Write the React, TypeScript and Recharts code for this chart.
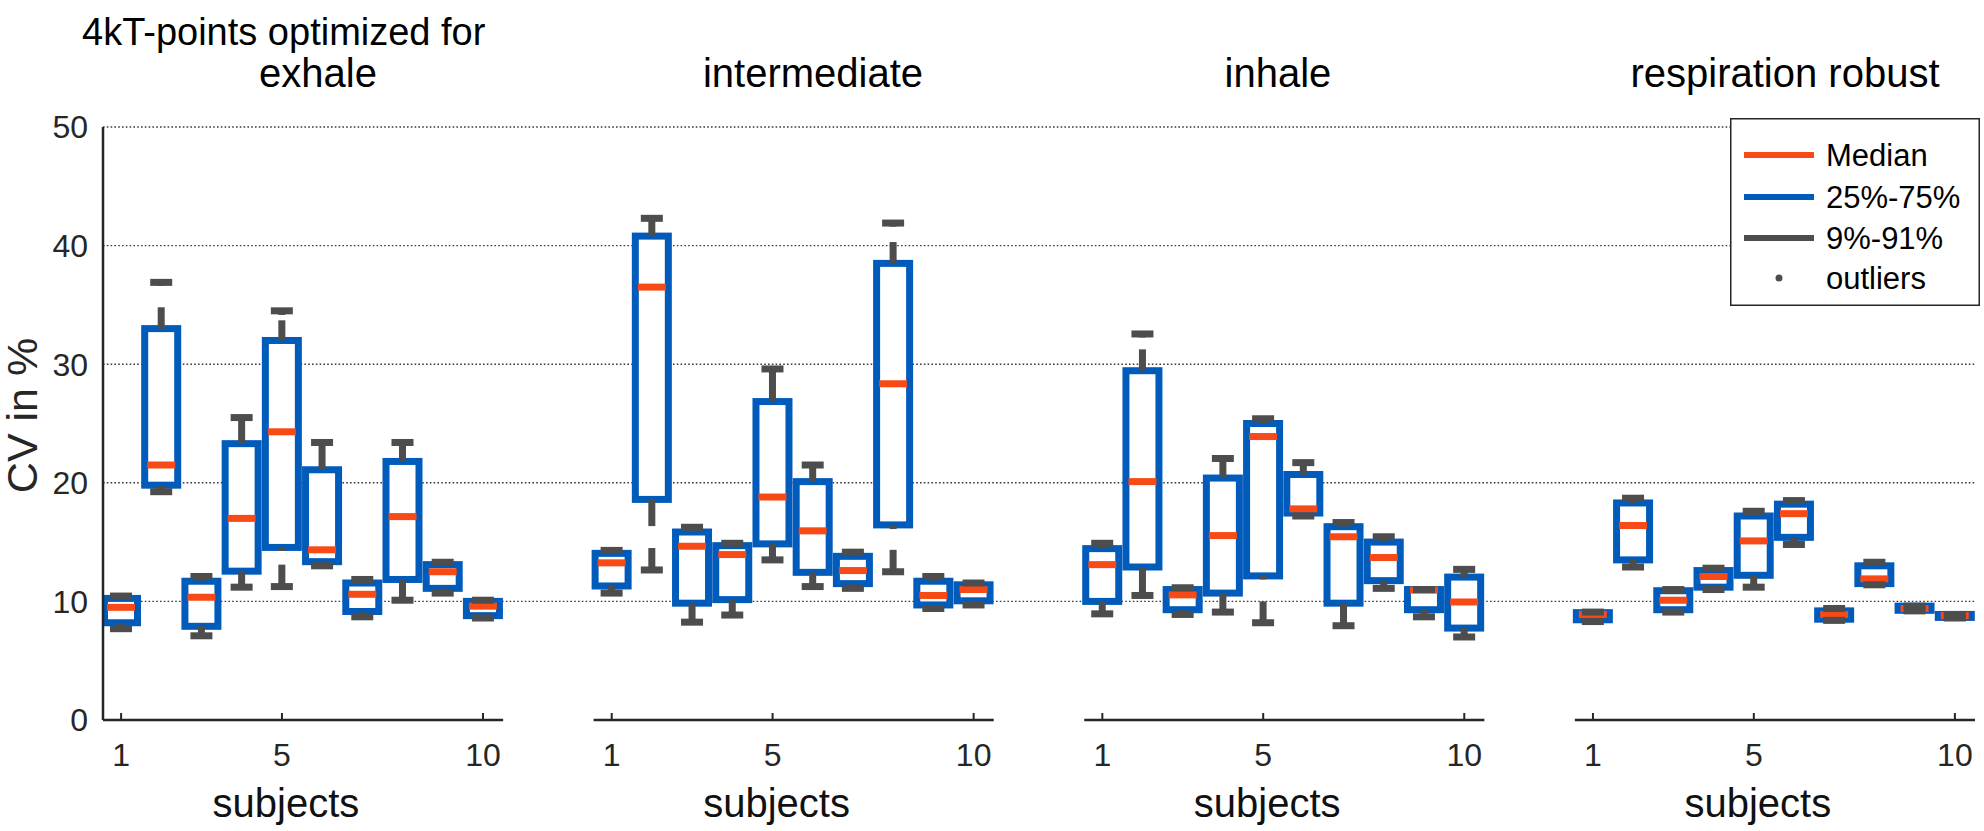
import React from "react";
import { ComposedChart, Bar, XAxis, YAxis, CartesianGrid, ReferenceLine, Legend, Label } from "recharts";

const PANELS = ["exhale", "intermediate", "inhale", "respiration robust"];
const SUBJECTS = [1, 2, 3, 4, 5, 6, 7, 8, 9, 10];
const SUBJECT_TICKS = [1, 5, 10];
const Y_TICKS = [0, 10, 20, 30, 40, 50];
const GRID_Y = [10, 20, 30, 40, 50];
const PANEL_STEP = 12.2;

// one row per panel, one value per subject
const P9 = [
  [7.7, 19.25, 7.1, 11.2, 11.25, 13.0, 8.7, 10.1, 10.7, 8.6],
  [10.7, 12.65, 8.25, 8.85, 13.5, 11.25, 11.1, 12.5, 9.4, 9.7],
  [8.95, 10.5, 8.9, 9.1, 8.2, 17.2, 7.95, 11.1, 8.7, 7.0],
  [8.3, 12.9, 9.1, 11.0, 11.2, 14.8, 8.4, 11.4, 9.2, 8.6],
];
const P25 = [
  [8.2, 19.8, 7.9, 12.55, 14.55, 13.35, 9.15, 11.85, 11.1, 8.8],
  [11.3, 18.6, 9.85, 10.15, 14.85, 12.45, 11.5, 16.45, 9.7, 10.05],
  [10.0, 12.9, 9.3, 10.7, 12.15, 17.45, 9.85, 11.75, 9.3, 7.75],
  [8.45, 13.5, 9.3, 11.2, 12.2, 15.4, 8.5, 11.5, 9.25, 8.65],
];
const P50 = [
  [9.5, 21.5, 10.35, 17.0, 24.3, 14.35, 10.6, 17.15, 12.5, 9.6],
  [13.25, 36.5, 14.65, 13.95, 18.8, 15.95, 12.6, 28.35, 10.5, 11.0],
  [13.1, 20.1, 10.55, 15.55, 23.9, 17.8, 15.45, 13.7, 10.95, 9.95],
  [8.9, 16.4, 10.1, 12.1, 15.1, 17.4, 8.9, 11.9, 9.4, 8.8],
];
const P75 = [
  [10.25, 33.0, 11.7, 23.3, 32.0, 21.1, 11.55, 21.8, 13.1, 10.0],
  [14.05, 40.8, 15.85, 14.7, 26.85, 20.1, 13.8, 38.5, 11.7, 11.4],
  [14.45, 29.45, 11.0, 20.4, 25.0, 20.7, 16.3, 15.0, 11.0, 12.05],
  [9.05, 18.3, 10.9, 12.6, 17.2, 18.2, 9.2, 13.0, 9.6, 8.9],
];
const P91 = [
  [10.45, 36.9, 12.1, 25.5, 34.5, 23.4, 11.85, 23.4, 13.3, 10.1],
  [14.3, 42.3, 16.25, 14.9, 29.6, 21.5, 14.15, 41.9, 12.1, 11.55],
  [14.9, 32.55, 11.15, 22.05, 25.4, 21.7, 16.65, 15.45, 11.0, 12.7],
  [9.1, 18.7, 11.0, 12.8, 17.6, 18.5, 9.4, 13.3, 9.6, 8.9],
];
// [panel, subject, from, to] where the whisker stem is interrupted
const GAPS = [
  [0, 2, 34.8, 36.6],
  [0, 5, 33.7, 34.15],
  [0, 5, 13.1, 14.25],
  [1, 2, 14.5, 16.35],
  [1, 8, 40.3, 41.6],
  [1, 8, 14.35, 16.1],
  [2, 2, 31.25, 32.25],
  [2, 5, 10.0, 11.85],
];

const LEGEND_ITEMS = ["Median", "25%-75%", "9%-91%", "outliers"];

const BLUE = "#005bbb";
const ORANGE = "#f84a16";
const GRAY = "#4d4d4d";
const AXIS = "#262626";
const FONT = "'Liberation Sans', Arial, Helvetica, sans-serif";

const data = PANELS.flatMap((_, p) =>
  SUBJECTS.map((s, i) => ({
    x: s + p * PANEL_STEP,
    panel: p,
    subject: s,
    lo: P9[p][i],
    q1: P25[p][i],
    med: P50[p][i],
    q3: P75[p][i],
    hi: P91[p][i],
    range: [P9[p][i], P91[p][i]],
  }))
);

const xTicks = PANELS.flatMap((_, p) => SUBJECT_TICKS.map((s) => s + p * PANEL_STEP));

function cutGaps(segs: number[][], gaps: number[][]) {
  let out = segs;
  gaps.forEach(([, , g1, g2]) => {
    out = out.flatMap(([a, b]) => {
      if (g2 <= a || g1 >= b) return [[a, b]];
      const parts: number[][] = [];
      if (g1 > a) parts.push([a, g1]);
      if (g2 < b) parts.push([g2, b]);
      return parts;
    });
  });
  return out;
}

function BoxShape(props: any) {
  const { x, y, width, height, payload } = props;
  if (!payload || !height) return null;
  const { lo, q1, med, q3, hi, panel, subject } = payload;
  const py = (v: number) => y + ((hi - v) / (hi - lo)) * height;
  const cx = x + width / 2;
  const stems = cutGaps(
    [[lo, q1], [q3, hi]],
    GAPS.filter((g) => g[0] === panel && g[1] === subject)
  );
  return (
    <g>
      <rect x={cx - 16.5} y={py(q3)} width={33} height={py(q1) - py(q3)} fill="#fff" stroke={BLUE} strokeWidth={7} />
      <rect x={cx - 14} y={py(med) - 3.5} width={28} height={7} fill={ORANGE} />
      {stems.map(([a, b], k) => (
        <rect key={k} x={cx - 3.5} y={py(b)} width={7} height={py(a) - py(b)} fill={GRAY} />
      ))}
      <rect x={cx - 11} y={py(hi) - 3.5} width={22} height={7} fill={GRAY} />
      <rect x={cx - 11} y={py(lo) - 3.5} width={22} height={7} fill={GRAY} />
    </g>
  );
}

function SubjectTick({ x, y, payload }: any) {
  const panel = Math.floor((payload.value - 0.5) / PANEL_STEP);
  const subject = Math.round(payload.value - panel * PANEL_STEP);
  return (
    <g>
      <line x1={x} x2={x} y1={y} y2={y - 7} stroke={AXIS} strokeWidth={2} />
      <text x={x} y={y + 46} textAnchor="middle" fontSize={32} fill={AXIS} fontFamily={FONT}>
        {subject}
      </text>
      {subject === 5 && (
        <text x={x + 4} y={y + 97} textAnchor="middle" fontSize={40} fill="#111" fontFamily={FONT}>
          subjects
        </text>
      )}
    </g>
  );
}

function YTitle({ viewBox }: any) {
  const cy = viewBox.y + viewBox.height / 2;
  return (
    <text transform={`translate(37, ${cy - 8}) rotate(-90)`} textAnchor="middle" fontSize={43} fill={AXIS} fontFamily={FONT}>
      CV in %
    </text>
  );
}

function LegendBox() {
  const rowY = [37, 79, 120, 160];
  return (
    <svg width={250} height={188} style={{ display: "block" }}>
      <rect x={0.75} y={0.75} width={248.5} height={186.5} fill="#fff" stroke={AXIS} strokeWidth={1.5} />
      <line x1={14} x2={84} y1={rowY[0]} y2={rowY[0]} stroke={ORANGE} strokeWidth={6} />
      <line x1={14} x2={84} y1={rowY[1]} y2={rowY[1]} stroke={BLUE} strokeWidth={6} />
      <line x1={14} x2={84} y1={rowY[2]} y2={rowY[2]} stroke={GRAY} strokeWidth={6} />
      <circle cx={49} cy={rowY[3]} r={3.5} fill={GRAY} />
      {LEGEND_ITEMS.map((t, i) => (
        <text key={t} x={96} y={rowY[i] + 11} fontSize={31} fill="#000" fontFamily={FONT}>
          {t}
        </text>
      ))}
    </svg>
  );
}

export default function App() {
  return (
    <div style={{ position: "absolute", left: 0, top: 0, width: 1984, height: 831, background: "#fff" }}>
      <ComposedChart width={1984} height={831} data={data} margin={{ top: 127, right: 9, bottom: 0, left: 0 }}>
        <CartesianGrid vertical={false} horizontalValues={GRID_Y} stroke="#3a3a3a" strokeWidth={1.4} strokeDasharray="1.6 2.2" />
        <XAxis
          type="number"
          dataKey="x"
          domain={[0.55, 3 * PANEL_STEP + 10.5]}
          ticks={xTicks}
          interval={0}
          allowDataOverflow
          axisLine={false}
          tickLine={false}
          tickSize={0}
          tickMargin={0}
          height={111}
          tick={<SubjectTick />}
        />
        <YAxis
          type="number"
          domain={[0, 50]}
          ticks={Y_TICKS}
          interval={0}
          width={103}
          tickLine={false}
          tickSize={0}
          tickMargin={15}
          axisLine={{ stroke: AXIS, strokeWidth: 2.5 }}
          tick={{ fontSize: 32, fill: AXIS, fontFamily: FONT }}
        >
          <Label content={YTitle} />
        </YAxis>
        {PANELS.map((_, p) => (
          <ReferenceLine
            key={p}
            segment={[
              { x: p * PANEL_STEP + 0.55, y: 0 },
              { x: p * PANEL_STEP + 10.5, y: 0 },
            ]}
            stroke={AXIS}
            strokeWidth={2.5}
            ifOverflow="visible"
          />
        ))}
        <Bar dataKey="range" barSize={40} shape={BoxShape} isAnimationActive={false} />
        <Legend
          content={LegendBox}
          layout="vertical"
          align="center"
          verticalAlign="middle"
          wrapperStyle={{ position: "absolute", left: 1730, top: 118, width: 250, height: 188 }}
        />
      </ComposedChart>
      <svg width={1984} height={831} style={{ position: "absolute", left: 0, top: 0, pointerEvents: "none" }}>
        <text x={82} y={45} fontSize={38} fill="#000" fontFamily={FONT}>
          4kT-points optimized for
        </text>
        {PANELS.map((name, p) => (
          <text key={name} x={[318, 813, 1278, 1785][p]} y={87} textAnchor="middle" fontSize={40} fill="#000" fontFamily={FONT}>
            {name}
          </text>
        ))}
      </svg>
    </div>
  );
}
